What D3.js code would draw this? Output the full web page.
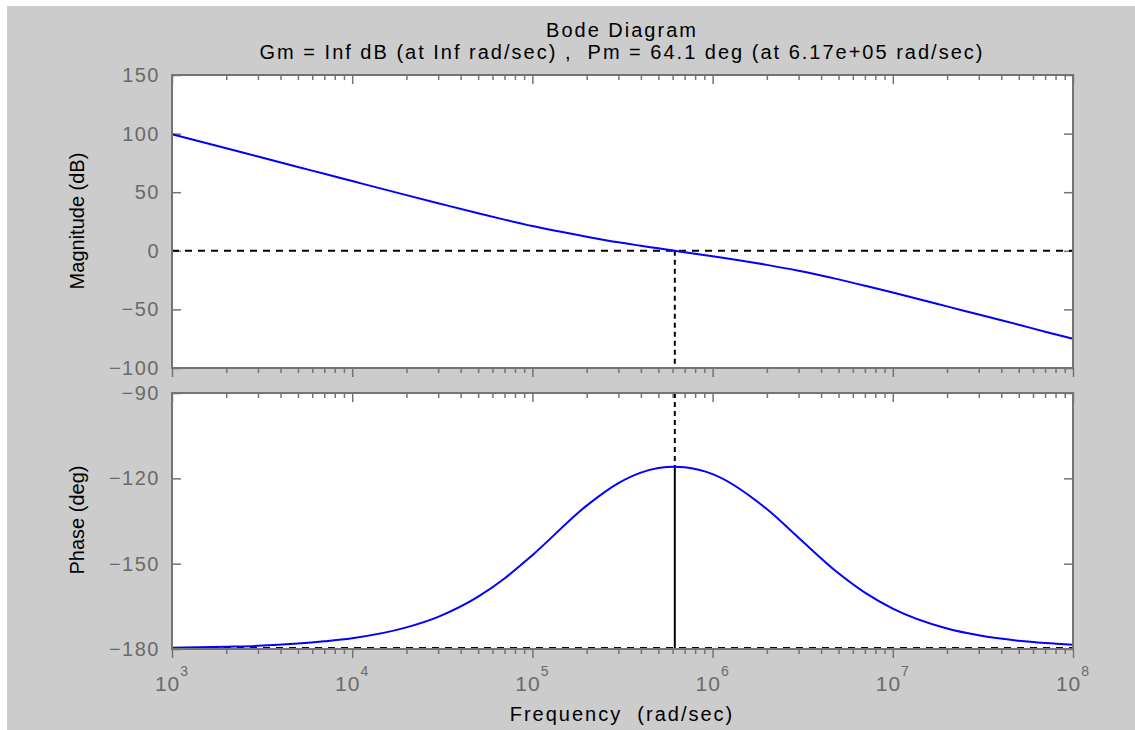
<!DOCTYPE html>
<html>
<head>
<meta charset="utf-8">
<script src="https://cdn.jsdelivr.net/npm/d3@7"></script>
<style>
body { margin: 0; background: #fff; }
text { font-family: "Liberation Sans", Arial, sans-serif; }
</style>
</head>
<body>
<div id="chart"></div>
<script>
"use strict";

// frequency points (rad/sec)
var freq = [1e3, 2e3, 3e3, 5e3, 7e3, 1e4, 2e4, 3e4, 5e4, 7e4,
	1e5, 2e5, 3e5, 4e5, 5e5, 6.17e5, 7e5, 1e6, 2e6, 3e6,
	5e6, 7e6, 1e7, 2e7, 3e7, 5e7, 7e7, 1e8];

var magnitude = [99.5, 87.5, 80.4, 71.5, 65.7, 59.5, 47.5, 40.6, 32.0, 26.6,
	21.1, 12.0, 7.2, 4.3, 2.1, 0.0, -1.2, -4.6, -12.0, -17.0,
	-24.4, -29.8, -35.6, -47.4, -54.4, -63.1, -69.0, -75.0];

var phase = [-179.6, -179.2, -178.9, -178.1, -177.3, -176.2, -172.4, -168.7, -161.6, -155.2,
	-147.0, -129.6, -121.7, -118.0, -116.4, -115.9, -116.1, -118.5, -130.8, -140.9,
	-153.4, -160.2, -165.8, -172.8, -175.2, -177.1, -177.9, -178.5];

var magTicks = [-100, -50, 0, 50, 100, 150];
var phaseTicks = [-180, -150, -120, -90];
var decades = [1e3, 1e4, 1e5, 1e6, 1e7, 1e8];
var decadeExp = ["3", "4", "5", "6", "7", "8"];

var crossFreq = 6.17e5;
var crossPhase = -115.9;

var titleLines = ["Bode Diagram", "Gm = Inf dB (at Inf rad/sec) ,  Pm = 64.1 deg (at 6.17e+05 rad/sec)"];


var svg = d3.select("#chart").append("svg")
	.attr("width", 1135).attr("height", 730);

svg.append("rect")
	.attr("x", 7).attr("y", 6)
	.attr("width", 1128).attr("height", 724)
	.attr("fill", "#cccccc");

var x = d3.scaleLog().domain([1e3, 1e8]).range([172, 1073]);
var yMag = d3.scaleLinear().domain([-100, 150]).range([368, 75]);
var yPh = d3.scaleLinear().domain([-180, -90]).range([649, 393]);

// minor ticks 2..9 per decade
var minorTicks = x.ticks().filter(function(d) { return decades.indexOf(d) < 0; });

var axisCol = "#747474";

function drawPanel(y, ticks) {
	var top = y.range()[1], bottom = y.range()[0];
	var g = svg.append("g");

	g.append("rect")
		.attr("x", 172).attr("y", top)
		.attr("width", 1073 - 172).attr("height", bottom - top)
		.attr("fill", "#fff");

	var left = g.append("g")
		.attr("transform", "translate(172,0)")
		.call(d3.axisLeft(y).tickValues(ticks).tickSize(-9).tickPadding(12)
			.tickFormat(function(d) { return d < 0 ? "\u2212" + Math.abs(d) : d; }));
	left.selectAll("text")
		.attr("fill", "#6a6a6a")
		.style("font-size", "20px")
		.style("letter-spacing", "1.5px")
		.style("font-family", "'Liberation Sans', Arial, sans-serif");

	var right = g.append("g")
		.attr("transform", "translate(1073,0)")
		.call(d3.axisRight(y).tickValues(ticks).tickSize(-9).tickFormat(""));

	[[top, d3.axisTop, -1], [bottom, d3.axisBottom, 1]].forEach(function(a) {
		var pos = a[0], mk = a[1], dir = a[2];
		g.append("g").attr("transform", "translate(0," + pos + ")")
			.call(mk(x).tickValues(decades).tickSize(dir * 9).tickFormat(""));
		g.append("g").attr("transform", "translate(0," + pos + ")")
			.call(mk(x).tickValues(minorTicks).tickSize(dir * 5).tickFormat(""));
	});

	g.selectAll(".domain").remove();
	g.selectAll(".tick line").attr("stroke", axisCol).attr("stroke-width", 1.5);

	return g;
}

var gMag = drawPanel(yMag, magTicks);
var gPh = drawPanel(yPh, phaseTicks);

// reference lines
gMag.append("line")
	.attr("x1", x(1e3)).attr("x2", x(1e8))
	.attr("y1", yMag(0)).attr("y2", yMag(0))
	.attr("stroke", "#000").attr("stroke-width", 2).attr("stroke-dasharray", "7,6");
gMag.append("line")
	.attr("x1", x(crossFreq)).attr("x2", x(crossFreq))
	.attr("y1", yMag(0)).attr("y2", yMag(-100))
	.attr("stroke", "#000").attr("stroke-width", 2).attr("stroke-dasharray", "5,4");

gPh.append("line")
	.attr("x1", x(1e3)).attr("x2", x(1e8))
	.attr("y1", yPh(-180) - 1).attr("y2", yPh(-180) - 1)
	.attr("stroke", "#000").attr("stroke-width", 2).attr("stroke-dasharray", "7,6");
gPh.append("line")
	.attr("x1", x(crossFreq)).attr("x2", x(crossFreq))
	.attr("y1", yPh(-90)).attr("y2", yPh(crossPhase))
	.attr("stroke", "#000").attr("stroke-width", 2).attr("stroke-dasharray", "5,4");
gPh.append("line")
	.attr("x1", x(crossFreq)).attr("x2", x(crossFreq))
	.attr("y1", yPh(crossPhase)).attr("y2", yPh(-180))
	.attr("stroke", "#000").attr("stroke-width", 2);

// curves
var magLine = d3.line()
	.curve(d3.curveMonotoneX)
	.x(function(d, i) { return x(freq[i]); })
	.y(function(d) { return yMag(d); });
var phLine = d3.line()
	.curve(d3.curveMonotoneX)
	.x(function(d, i) { return x(freq[i]); })
	.y(function(d) { return yPh(d); });

gMag.append("path").attr("d", magLine(magnitude))
	.attr("fill", "none").attr("stroke", "#0000ff").attr("stroke-width", 2);
gPh.append("path").attr("d", phLine(phase))
	.attr("fill", "none").attr("stroke", "#0000ff").attr("stroke-width", 2);

// boxes
[gMag, gPh].forEach(function(g, i) {
	var y = i == 0 ? yMag : yPh;
	g.append("rect")
		.attr("x", 172).attr("y", y.range()[1])
		.attr("width", 1073 - 172).attr("height", y.range()[0] - y.range()[1])
		.attr("fill", "none").attr("stroke", axisCol).attr("stroke-width", 2);
});

// x tick labels 10^n
var xl = svg.append("g").selectAll("text")
	.data(decades)
	.enter().append("text")
	.attr("x", function(d) { return x(d); })
	.attr("y", 691)
	.attr("text-anchor", "middle")
	.attr("fill", "#6a6a6a")
	.style("font-size", "21px")
	.style("letter-spacing", "1px");
xl.append("tspan").text("10");
xl.append("tspan")
	.attr("dy", -15)
	.style("font-size", "14px")
	.text(function(d, i) { return decadeExp[i]; });

// titles and labels
svg.append("text")
	.attr("x", 622).attr("y", 37)
	.attr("text-anchor", "middle")
	.style("font-size", "20px")
	.style("letter-spacing", "2px")
	.text(titleLines[0]);
svg.append("text")
	.attr("x", 622).attr("y", 59)
	.attr("text-anchor", "middle")
	.style("font-size", "20px")
	.style("letter-spacing", "2px")
	.style("white-space", "pre")
	.text(titleLines[1]);

svg.append("text")
	.attr("transform", "translate(84,221) rotate(-90)")
	.attr("text-anchor", "middle")
	.style("font-size", "20px")
	.text("Magnitude (dB)");
svg.append("text")
	.attr("transform", "translate(84,520) rotate(-90)")
	.attr("text-anchor", "middle")
	.style("font-size", "20px")
	.text("Phase (deg)");
svg.append("text")
	.attr("x", 622).attr("y", 721)
	.attr("text-anchor", "middle")
	.style("font-size", "20px")
	.style("letter-spacing", "2px")
	.style("white-space", "pre")
	.text("Frequency  (rad/sec)");
</script>
</body>
</html>
